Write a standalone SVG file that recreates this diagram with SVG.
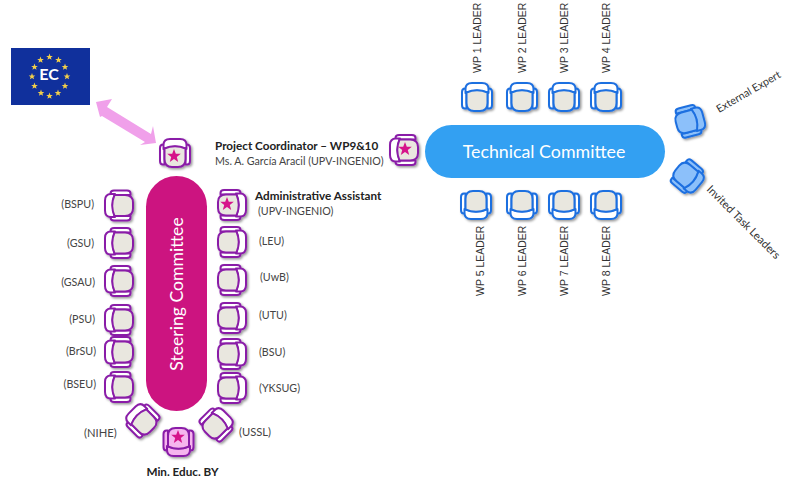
<svg xmlns="http://www.w3.org/2000/svg" width="785" height="482" viewBox="0 0 785 482">
<style>
text{font-family:Lato,"Open Sans","Liberation Sans",sans-serif;fill:#444}
.b{font-weight:700;fill:#222;font-size:11.700px}
.s{font-size:10.700px}
.wp{font-family:"Liberation Sans",Arial,sans-serif;font-size:10.500px;fill:#333}
.dk{fill:#333}
.t{fill:#fff}
.c{stroke-width:2;stroke-linejoin:round;filter:url(#sh)}
.pu{stroke:#8a1fa8}
.bl{stroke:#1f6fe0}
.seat{fill:#e9e7df}
.wh{fill:#fff}
.pk{fill:#f6b5ee}
.lb{fill:#8cc0fa}
.star{fill:#d6148a}
.es{fill:#f2cf4a}
</style>
<defs>
<filter id="sh" x="-30%" y="-30%" width="170%" height="170%"><feDropShadow dx="1.500" dy="1.500" stdDeviation="1.200" flood-color="#000" flood-opacity="0.400"/></filter>
<path id="arms" d="M-12-8.500Q-15-8.500-15-5V8Q-15 11.500-12 11.500H-10.500V-8.500ZM12-8.500Q15-8.500 15-5V8Q15 11.500 12 11.500H10.500V-8.500Z"/>
<path id="back" d="M-11.500-4V-8Q-11.500-14-5-14H5Q11.500-14 11.500-8V-4Q0-9-11.500-4Z"/>
<path id="seat" d="M-10.500-4.500Q0-9 10.500-4.500V6Q10.500 14 3 14H-3Q-10.500 14-10.500 6Z"/>
<g id="chair"><use href="#arms" class="wh"/><use href="#back" class="wh"/><use href="#seat" class="seat"/></g>
<g id="chairP"><use href="#arms" class="pk"/><use href="#back" class="pk"/><use href="#seat" class="pk"/></g>
<g id="chairB"><use href="#arms" class="lb"/><use href="#back" class="lb"/><use href="#seat" class="lb"/></g>
<polygon id="star" points="0,-7 1.800,-2.200 6.800,-2.200 2.800,1 4.200,6 0,3.100 -4.200,6 -2.800,1 -6.800,-2.200 -1.800,-2.200"/>
<polygon id="eu" points="0,-3.400 0.900,-1.100 3.300,-1.100 1.400,0.400 2.100,2.800 0,1.400 -2.100,2.800 -1.400,0.400 -3.300,-1.100 -0.900,-1.100"/>
</defs>
<rect width="785" height="482" fill="#fff"/>

<g id="connectors">
<polygon points="96,102 112,99 107,107 151,134 153,126 156,143 140,145 145,142 102,116 100,117" fill="#f0a0ea"/>
</g>

<g id="ec">
<rect x="11" y="48" width="79" height="57" fill="#10309c"/>
<g class="es">
<use href="#eu" x="49.500" y="57"/><use href="#eu" x="58.500" y="60"/><use href="#eu" x="65" y="67"/><use href="#eu" x="67" y="76.500"/><use href="#eu" x="65" y="86"/><use href="#eu" x="58" y="93"/><use href="#eu" x="49.500" y="96"/><use href="#eu" x="41" y="93"/><use href="#eu" x="34.500" y="86"/><use href="#eu" x="32" y="76.500"/><use href="#eu" x="34.500" y="67"/><use href="#eu" x="40.500" y="60"/>
</g>
<text x="49" y="80" text-anchor="middle" font-size="16" class="t" font-weight="700">EC</text>
</g>

<g id="steering-committee">
<rect x="146" y="176" width="61" height="235" rx="30.500" fill="#cc1480"/>
<text transform="translate(183,294) rotate(-90)" text-anchor="middle" font-size="17.600" class="t">Steering Committee</text>
</g>
<g id="technical-committee">
<rect x="425" y="125" width="240" height="53" rx="26.500" fill="#33a0f2"/>
<text x="544" y="158" text-anchor="middle" font-size="17.800" class="t">Technical Committee</text>
</g>

<g id="coordinator-top"><g class="c pu"><use href="#chair" transform="translate(175,153)"/></g><use href="#star" class="star" x="174" y="156"/></g>
<g id="project-coordinator"><g class="c pu"><use href="#chair" transform="translate(404,150) rotate(-90)"/></g><use href="#star" class="star" x="405" y="149"/>
<text x="215" y="150" class="b">Project Coordinator – WP9&amp;10</text>
<text x="215" y="165" class="s">Ms. A. García Aracil (UPV-INGENIO)</text></g>
<g id="administrative-assistant"><g class="c pu"><use href="#chair" transform="translate(232,205) rotate(90)"/></g><use href="#star" class="star" x="227" y="204"/>
<text x="255" y="200" class="b">Administrative Assistant</text>
<text x="258" y="215" class="s">(UPV-INGENIO)</text></g>

<g id="bspu"><g class="c pu"><use href="#chair" transform="translate(119,205.500) rotate(-90)"/></g><text x="94" y="208" text-anchor="end" class="s">(BSPU)</text></g>
<g id="gsu"><g class="c pu"><use href="#chair" transform="translate(119,243) rotate(-90)"/></g><text x="94" y="247" text-anchor="end" class="s">(GSU)</text></g>
<g id="gsau"><g class="c pu"><use href="#chair" transform="translate(119,281) rotate(-90)"/></g><text x="95" y="286" text-anchor="end" class="s">(GSAU)</text></g>
<g id="psu"><g class="c pu"><use href="#chair" transform="translate(119,320) rotate(-90)"/></g><text x="95" y="323" text-anchor="end" class="s">(PSU)</text></g>
<g id="brsu"><g class="c pu"><use href="#chair" transform="translate(119,352) rotate(-90)"/></g><text x="96" y="355" text-anchor="end" class="s">(BrSU)</text></g>
<g id="bseu"><g class="c pu"><use href="#chair" transform="translate(119,387) rotate(-90)"/></g><text x="96" y="388" text-anchor="end" class="s">(BSEU)</text></g>
<g id="nihe"><g class="c pu"><use href="#chair" transform="translate(142,420) rotate(-45)"/></g><text x="84" y="437" font-size="11.200">(NIHE)</text></g>
<g id="min-educ"><g class="c pu"><use href="#chairP" transform="translate(178.500,442) scale(1,-1)"/></g><use href="#star" class="star" x="178" y="437"/><text x="182.500" y="476" text-anchor="middle" class="b">Min. Educ. BY</text></g>
<g id="ussl"><g class="c pu"><use href="#chair" transform="translate(217,424) rotate(45)"/></g><text x="239" y="436" font-size="11.200">(USSL)</text></g>

<g id="leu"><g class="c pu"><use href="#chair" transform="translate(232,242) rotate(90)"/></g><text x="259" y="245" class="s">(LEU)</text></g>
<g id="uwb"><g class="c pu"><use href="#chair" transform="translate(232,280) rotate(90)"/></g><text x="260" y="281" class="s">(UwB)</text></g>
<g id="utu"><g class="c pu"><use href="#chair" transform="translate(232,318) rotate(90)"/></g><text x="259" y="319" class="s">(UTU)</text></g>
<g id="bsu"><g class="c pu"><use href="#chair" transform="translate(232,354) rotate(90)"/></g><text x="259" y="356" class="s">(BSU)</text></g>
<g id="yksug"><g class="c pu"><use href="#chair" transform="translate(232,388) rotate(90)"/></g><text x="259" y="392" class="s">(YKSUG)</text></g>

<g id="wp1"><g class="c bl"><use href="#chair" transform="translate(477,97)"/></g><text class="wp" transform="translate(481,73) rotate(-90)">WP 1 LEADER</text></g>
<g id="wp2"><g class="c bl"><use href="#chair" transform="translate(522,97)"/></g><text class="wp" transform="translate(526,73) rotate(-90)">WP 2 LEADER</text></g>
<g id="wp3"><g class="c bl"><use href="#chair" transform="translate(564,97)"/></g><text class="wp" transform="translate(568,73) rotate(-90)">WP 3 LEADER</text></g>
<g id="wp4"><g class="c bl"><use href="#chair" transform="translate(606,97)"/></g><text class="wp" transform="translate(610,73) rotate(-90)">WP 4 LEADER</text></g>
<g id="wp5"><g class="c bl"><use href="#chair" transform="translate(476,205) scale(1,-1)"/></g><text class="wp" transform="translate(484,296) rotate(-90)">WP 5 LEADER</text></g>
<g id="wp6"><g class="c bl"><use href="#chair" transform="translate(522,205) scale(1,-1)"/></g><text class="wp" transform="translate(526,296) rotate(-90)">WP 6 LEADER</text></g>
<g id="wp7"><g class="c bl"><use href="#chair" transform="translate(564,205) scale(1,-1)"/></g><text class="wp" transform="translate(568,296) rotate(-90)">WP 7 LEADER</text></g>
<g id="wp8"><g class="c bl"><use href="#chair" transform="translate(606,205) scale(1,-1)"/></g><text class="wp" transform="translate(610,296) rotate(-90)">WP 8 LEADER</text></g>

<g id="external-expert"><g class="c bl"><use href="#chairB" transform="translate(690,121) rotate(75)"/></g><text class="s dk" transform="translate(719,113) rotate(-30)" font-size="11">External Expert</text></g>
<g id="invited-task-leaders"><g class="c bl"><use href="#chairB" transform="translate(688,177) rotate(130)"/></g><text class="s dk" transform="translate(706,190) rotate(45)" style="font-size:11.200px">Invited Task Leaders</text></g>
</svg>
